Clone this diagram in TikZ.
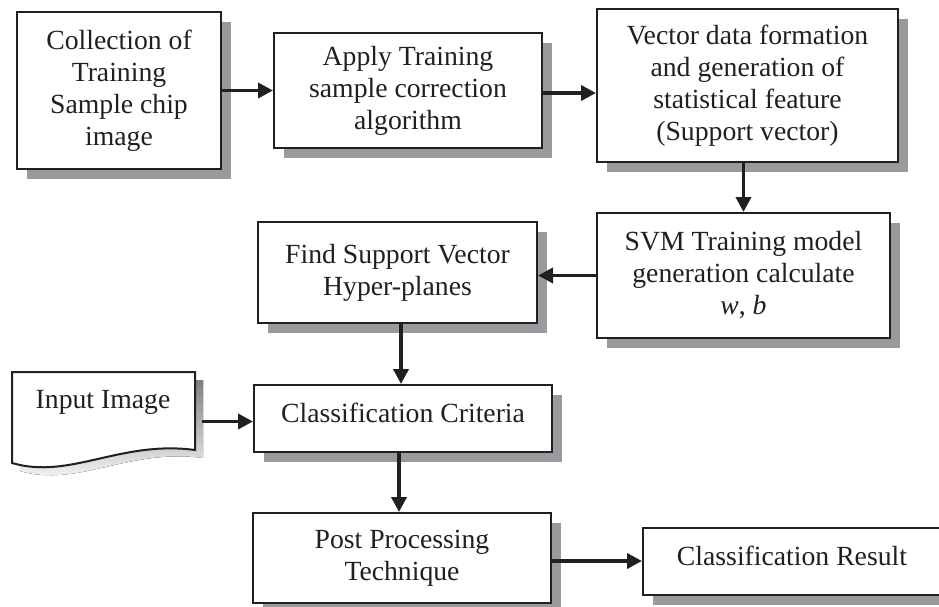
\documentclass[tikz,border=0pt]{standalone}
\usepackage{fontspec}
\setmainfont{Liberation Serif}
\usetikzlibrary{arrows.meta,shadows,calc}
\definecolor{ink}{RGB}{35,31,32}
\definecolor{shade}{RGB}{152,154,157}
\begin{document}
\begin{tikzpicture}[x=1pt,y=-1pt,
  box/.style={draw=ink, line width=2pt, fill=white, align=center, inner sep=0pt,
    text=ink, font=\fontsize{27.7}{32}\selectfont,
    general shadow={fill=shade, shadow xshift=10pt, shadow yshift=-10pt}},
  lbl/.style={text=ink, font=\fontsize{27.7}{32}\selectfont, inner sep=0pt},
  arr/.style={draw=ink, line width=3.6pt, -{Triangle[length=15pt,width=15pt]}}]
\path[use as bounding box] (0,0) rectangle (939,607);
\clip (0,0) rectangle (939,607);

\node[box, minimum width=204pt, minimum height=156pt] (coll) at (119,90.5) {Collection of\\Training\\Sample chip\\image};
\node[box, minimum width=268pt, minimum height=115pt] (corr) at (408,90.5) {Apply Training\\sample correction\\algorithm};
\node[box, minimum width=301pt, minimum height=153pt] (vec) at (747.5,85.5) {Vector data formation\\and generation of\\statistical feature\\(Support vector)};
\node[box, minimum width=293pt, minimum height=125pt] (svm) at (743.5,275.5) {SVM Training model\\generation calculate\\\textit{w}, \textit{b}};
\node[box, minimum width=279pt, minimum height=101pt] (find) at (397.5,272.5) {Find Support Vector\\Hyper-planes};
\node[box, minimum width=298pt, minimum height=67pt, text depth=12.5pt] (crit) at (403,418.5) {Classification Criteria};
\node[box, minimum width=298pt, minimum height=90pt] (post) at (402,558) {Post Processing\\Technique};
\node[box, minimum width=298pt, minimum height=67pt, text depth=12.5pt] (res) at (792,561.5) {Classification Result};

% input document shape
\begin{scope}[shift={(8,8)}]
  \fill[shade] (12,372) -- (195,372) -- (195,450) .. controls (120,440) and (70,480) .. (12,463) -- cycle;
\end{scope}
\draw[ink, line width=2pt, fill=white] (12,372) -- (195,372) -- (195,450) .. controls (120,440) and (70,480) .. (12,463) -- cycle;
\node[lbl, anchor=base] (input) at (103,408) {Input Image};
\coordinate (inout) at (202,421.5);

% connectors
\draw[arr] (coll.east) -- (corr.west);
\draw[arr] ($(corr.east)+(0,2.5)$) coordinate (a1) -- (a1 -| vec.west);
\draw[arr] (vec.south -| svm.north) -- (svm.north);
\draw[arr] (svm.west) -- (svm.west -| find.east);
\draw[arr] ($(find.south)+(3.5,0)$) coordinate (a2) -- (a2 |- crit.north);
\draw[arr] (inout) -- (inout -| crit.west);
\draw[arr] ($(crit.south)+(-4,0)$) coordinate (a3) -- (a3 |- post.north);
\draw[arr] ($(post.east)+(0,3)$) coordinate (a4) -- (a4 -| res.west);
\end{tikzpicture}
\end{document}
